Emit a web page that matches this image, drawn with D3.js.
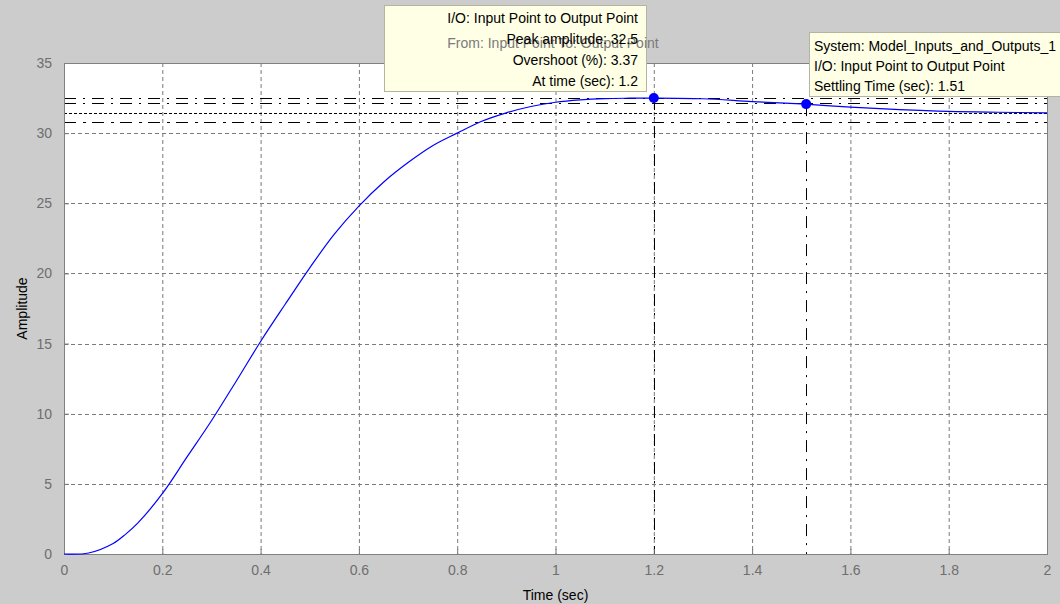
<!DOCTYPE html>
<html>
<head>
<meta charset="utf-8">
<script src="https://cdn.jsdelivr.net/npm/d3@7"></script>
<style>
  html, body { margin: 0; padding: 0; background: #cccccc; }
  svg { display: block; font-family: "Liberation Sans", Arial, sans-serif; }
</style>
</head>
<body>
<svg id="chart" width="1060" height="604"></svg>
<script>
// step response - amplitude vs time, with peak and settling markers

const TIMES = [0, 0.05, 0.1, 0.125, 0.15, 0.2, 0.25, 0.3, 0.35, 0.4, 0.45, 0.5, 0.55, 0.6,
  0.65, 0.7, 0.75, 0.8, 0.85, 0.9, 0.95, 1.0, 1.05, 1.1, 1.15, 1.2, 1.3, 1.4, 1.5, 1.6,
  1.7, 1.8, 1.9, 2.0];
const AMPS = [0, 0.07, 0.75, 1.4, 2.2, 4.3, 6.9, 9.5, 12.3, 15.15, 17.8, 20.4, 22.8, 24.8,
  26.5, 27.9, 29.1, 30.0, 30.85, 31.45, 31.9, 32.2, 32.37, 32.46, 32.49, 32.5, 32.45, 32.25,
  32.08, 31.86, 31.68, 31.55, 31.49, 31.45];

const X_TICKS = [0, 0.2, 0.4, 0.6, 0.8, 1, 1.2, 1.4, 1.6, 1.8, 2];
const Y_TICKS = [0, 5, 10, 15, 20, 25, 30, 35];

const PEAK = { t: 1.2, amp: 32.5 };
const SETTLE = { t: 1.51, amp: 32.07 };
const FINAL_VALUE = 31.44;
const BAND = [FINAL_VALUE * 1.022, FINAL_VALUE * 0.98];

const PEAK_TIP = ["I/O: Input Point to Output Point", "Peak amplitude: 32.5",
  "Overshoot (%): 3.37", "At time (sec): 1.2"];
const SETTLE_TIP = ["System: Model_Inputs_and_Outputs_1", "I/O: Input Point to Output Point",
  "Settling Time (sec): 1.51"];

const W = 1060, H = 604;
const margin = { top: 63, right: 13, bottom: 50, left: 64 };
const iW = W - margin.left - margin.right;
const iH = H - margin.top - margin.bottom;
const FONT = "14px";

const svg = d3.select("#chart");
svg.append("rect").attr("width", W).attr("height", H).attr("fill", "#cccccc");

const g = svg.append("g").attr("transform", `translate(${margin.left},${margin.top})`);

// ── Scales ────────────────────────────────────────────────────
const xs = d3.scaleLinear().domain([0, 2]).range([0, iW]);
const ys = d3.scaleLinear().domain([0, 35]).range([iH, 0]);

g.append("rect").attr("width", iW).attr("height", iH).attr("fill", "#ffffff");

// ── Grid ──────────────────────────────────────────────────────
X_TICKS.slice(1, -1).forEach(t => {
  g.append("line")
    .attr("x1", xs(t) + 0.5).attr("x2", xs(t) + 0.5).attr("y1", 0).attr("y2", iH)
    .attr("stroke", "#7a7a7a").attr("stroke-dasharray", "4 3");
});
Y_TICKS.slice(1, -1).forEach(v => {
  g.append("line")
    .attr("x1", 0).attr("x2", iW).attr("y1", Math.round(ys(v)) + 0.5).attr("y2", Math.round(ys(v)) + 0.5)
    .attr("stroke", "#7a7a7a").attr("stroke-dasharray", "4 3");
});

// ── Reference lines: peak, settling band, final value ─────────
const hline = (v, dash) => g.append("line")
  .attr("x1", 0).attr("x2", iW)
  .attr("y1", Math.round(ys(v)) + 0.5).attr("y2", Math.round(ys(v)) + 0.5)
  .attr("stroke", "#000").attr("stroke-width", 1).attr("stroke-dasharray", dash);

hline(PEAK.amp, "12 7 2 7");
hline(BAND[0], "12 7 2 7");
hline(FINAL_VALUE, "3 2");
hline(BAND[1], "12 7 3 6");

// vertical dash-dot drop lines
[PEAK, SETTLE].forEach(p => {
  g.append("line")
    .attr("x1", Math.round(xs(p.t)) + 0.5).attr("x2", Math.round(xs(p.t)) + 0.5)
    .attr("y1", ys(p.amp)).attr("y2", iH)
    .attr("stroke", "#000").attr("stroke-dasharray", "12 7 2 7");
});

// ── Axes ──────────────────────────────────────────────────────
const styleAxis = a => a
  .call(s => s.select(".domain").remove())
  .call(s => s.selectAll(".tick line").attr("stroke", "#777"))
  .call(s => s.selectAll("text").attr("fill", "#6e6e6e").attr("font-size", FONT)
    .attr("font-family", "Liberation Sans, Arial, sans-serif"));

g.append("g").attr("transform", `translate(0,${iH})`)
  .call(d3.axisBottom(xs).tickValues(X_TICKS).tickFormat(d3.format("~g"))
    .tickSizeInner(-5).tickSizeOuter(0).tickPadding(11))
  .call(styleAxis);

g.append("g")
  .call(d3.axisLeft(ys).tickValues(Y_TICKS).tickSizeInner(-5).tickSizeOuter(0).tickPadding(12))
  .call(styleAxis);

// plot box
g.append("rect").attr("x", 0.5).attr("y", 0.5).attr("width", iW).attr("height", iH)
  .attr("fill", "none").attr("stroke", "#808080");

// ── Response curve ────────────────────────────────────────────
const line = d3.line().x((d, i) => xs(TIMES[i])).y(d => ys(d)).curve(d3.curveCatmullRom);
g.append("path").datum(AMPS).attr("d", line)
  .attr("fill", "none").attr("stroke", "#0000ff").attr("stroke-width", 1.2);

[PEAK, SETTLE].forEach(p => {
  g.append("circle").attr("cx", xs(p.t)).attr("cy", ys(p.amp)).attr("r", 5)
    .attr("fill", "#0000ff");
});

// ── Axis labels ───────────────────────────────────────────────
svg.append("text").attr("x", margin.left + iW / 2).attr("y", 600)
  .attr("text-anchor", "middle").attr("font-size", FONT).attr("fill", "#000")
  .text("Time (sec)");
svg.append("text").attr("transform", `translate(27,${margin.top + iH / 2}) rotate(-90)`)
  .attr("text-anchor", "middle").attr("font-size", FONT).attr("fill", "#000")
  .text("Amplitude");

// ── Data tips ─────────────────────────────────────────────────
svg.append("rect").attr("x", 384.5).attr("y", 5.5).attr("width", 262).attr("height", 86)
  .attr("fill", "#ffffe6").attr("stroke", "#b4b4a0");

// axes title sits behind the peak tip text
svg.append("text").attr("x", 553).attr("y", 48).attr("text-anchor", "middle")
  .attr("font-size", FONT).attr("fill", "#7a7a7a")
  .text("From: Input Point  To: Output Point");

PEAK_TIP.forEach((s, i) => {
  svg.append("text").attr("x", 638).attr("y", 23 + i * 21).attr("text-anchor", "end")
    .attr("font-size", FONT).attr("fill", "#000").text(s);
});

svg.append("rect").attr("x", 809.5).attr("y", 32.5).attr("width", 260).attr("height", 64)
  .attr("fill", "#ffffe6").attr("stroke", "#b4b4a0");
SETTLE_TIP.forEach((s, i) => {
  svg.append("text").attr("x", 814).attr("y", 51 + i * 20)
    .attr("font-size", FONT).attr("fill", "#000").text(s);
});
</script>
</body>
</html>
